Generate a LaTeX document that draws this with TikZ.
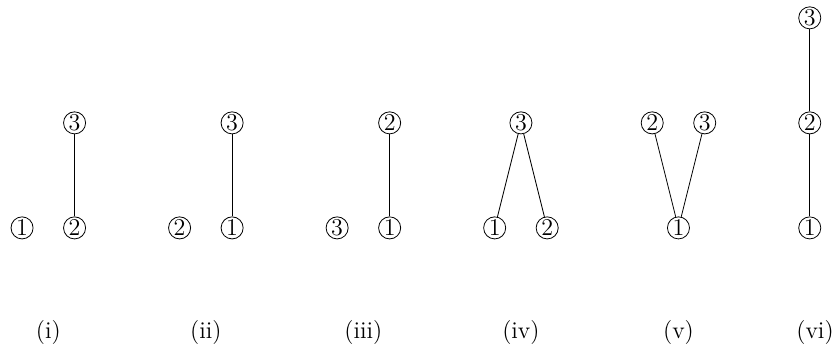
\documentclass[tikz,border=0pt]{standalone}
\usepackage{tikz}
\tikzset{vtx/.style={draw, circle, inner sep=0pt, minimum size=11pt, font=\large},
         sublbl/.style={font=\large}}

\begin{document}
\begin{tikzpicture}[x=0.92cm, y=0.92cm]
			%%%%% START %%%%%
			\useasboundingbox (-0.42, -2.32) rectangle (15.5, 4.34);
			
			% (i)
			\node[vtx] (i1) at (0, 0) {1};
			\node[vtx] (i2) at (1, 0) {2};
			\node[vtx] (i3) at (1, 2) {3};
			\draw (i2) -- (i3);
			\node[sublbl] (ci) at (0.5, -2) {(i)};
			
			% (ii)
			\node[vtx] (ii2) at (3, 0) {2};
			\node[vtx] (ii1) at (4, 0) {1};
			\node[vtx] (ii3) at (4, 2) {3};
			\draw (ii1) -- (ii3);
			\node[sublbl] (cii) at (3.5, -2) {(ii)};
			
			% (iii)
			\node[vtx] (iii3) at (6, 0) {3};
			\node[vtx] (iii1) at (7, 0) {1};
			\node[vtx] (iii2) at (7, 2) {2};
			\draw (iii1) -- (iii2);
			\node[sublbl] (ciii) at (6.5, -2) {(iii)};
			
			% (iv)
			\node[vtx] (iv1) at (9, 0) {1};
			\node[vtx] (iv2) at (10, 0) {2};
			\node[vtx] (iv3) at (9.5, 2) {3};
			\draw (iv1) -- (iv3) -- (iv2);
			\node[sublbl] (civ) at (9.5, -2) {(iv)};
			
			% (v)
			\node[vtx] (v1) at (12.5, 0) {1};
			\node[vtx] (v2) at (12, 2) {2};
			\node[vtx] (v3) at (13, 2) {3};
			\draw (v2) -- (v1) -- (v3);
			\node[sublbl] (cv) at (12.5, -2) {(v)};
			
			% (vi)
			\node[vtx] (vi1) at (15, 0) {1};
			\node[vtx] (vi2) at (15, 2) {2};
			\node[vtx] (vi3) at (15, 4) {3};
			\draw (vi1) -- (vi2) -- (vi3);
			\node[sublbl] (cvi) at (15.1, -2) {(vi)};
			
			%%%%% END %%%%%
		\end{tikzpicture}
\end{document}
